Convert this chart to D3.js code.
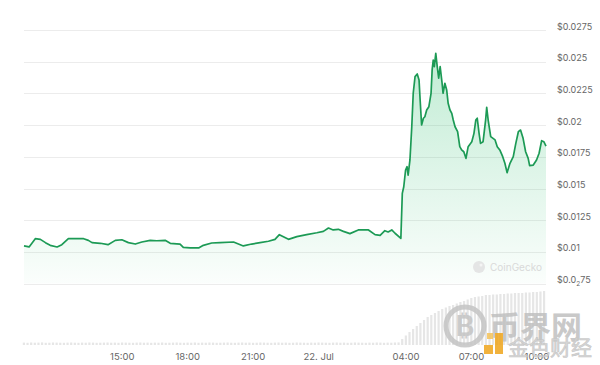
<!DOCTYPE html>
<html>
<head>
<meta charset="utf-8">
<script src="https://cdn.jsdelivr.net/npm/d3@7"></script>
<style>
  body { margin: 0; background: #fff; }
  svg { display: block; font-family: Inter, "Noto Sans", sans-serif; }
</style>
</head>
<body>
<div class="container"></div>
<script>
// Price chart, 24h, with volume bars underneath

const priceTimes = [
  "21 10:30","21 10:44","21 11:01","21 11:15","21 11:29","21 11:42","21 12:01","21 12:14",
  "21 12:32","21 12:56","21 13:14","21 13:27","21 13:37","21 14:00","21 14:21","21 14:41",
  "21 14:59","21 15:17","21 15:36","21 15:54","21 16:17","21 16:35","21 16:58","21 17:12",
  "21 17:39","21 17:48","21 18:07","21 18:30","21 18:43","21 19:06","21 19:29","21 20:06",
  "21 20:33","21 20:56","21 21:19","21 21:42","21 22:00","21 22:12","21 22:37","21 23:00",
  "21 23:27","21 23:55","22 00:13","22 00:27","22 00:40","22 00:54","22 01:08","22 01:26",
  "22 01:49","22 02:17","22 02:35","22 02:49","22 03:02","22 03:11","22 03:21","22 03:30",
  "22 03:46","22 03:50","22 03:54","22 03:59","22 04:03","22 04:06","22 04:11","22 04:16",
  "22 04:20","22 04:25","22 04:31","22 04:36","22 04:39","22 04:43","22 04:48","22 04:52",
  "22 04:57","22 05:03","22 05:09","22 05:12","22 05:15","22 05:18","22 05:22","22 05:26",
  "22 05:30","22 05:34","22 05:39","22 05:42","22 05:47","22 05:52","22 05:56","22 06:01",
  "22 06:06","22 06:10","22 06:15","22 06:22","22 06:28","22 06:33","22 06:39","22 06:45",
  "22 06:51","22 07:01","22 07:07","22 07:12","22 07:16","22 07:21","22 07:25","22 07:32",
  "22 07:39","22 07:42","22 07:46","22 07:53","22 08:05","22 08:11","22 08:18","22 08:26",
  "22 08:32","22 08:38","22 08:46","22 08:55","22 09:02","22 09:09","22 09:15","22 09:22",
  "22 09:29","22 09:36","22 09:40","22 09:50","22 09:59","22 10:06","22 10:13","22 10:19",
  "22 10:25"
];

const prices = [
  0.01047, 0.01039, 0.01104, 0.01099, 0.01073, 0.01052, 0.01039, 0.01057,
  0.01104, 0.01104, 0.01104, 0.01091, 0.01073, 0.01068, 0.01057, 0.01091,
  0.01096, 0.01073, 0.01062, 0.01078, 0.01091, 0.01088, 0.01091, 0.01068,
  0.01062, 0.01036, 0.01031, 0.01031, 0.01052, 0.01070, 0.01073, 0.01078,
  0.01047, 0.01062, 0.01073, 0.01084, 0.01099, 0.01136, 0.01099, 0.01120,
  0.01136, 0.01151, 0.01162, 0.01188, 0.01173, 0.01178, 0.01162, 0.01144,
  0.01173, 0.01173, 0.01136, 0.01131, 0.01167, 0.01157, 0.01173, 0.01147,
  0.01107, 0.01462, 0.01514, 0.01646, 0.01672, 0.01606, 0.01725, 0.01987,
  0.02251, 0.02382, 0.02403, 0.02356, 0.02198, 0.02001, 0.02054, 0.02066,
  0.02119, 0.02145, 0.02251, 0.02435, 0.02513, 0.02461, 0.02566, 0.02461,
  0.02371, 0.02461, 0.02340, 0.02251, 0.02330, 0.02277, 0.02172, 0.02119,
  0.02093, 0.02040, 0.01987, 0.01948, 0.01830, 0.01804, 0.01790, 0.01738,
  0.01830, 0.01869, 0.01935, 0.02040, 0.02054, 0.01935, 0.01856, 0.01869,
  0.02040, 0.02140, 0.02040, 0.01909, 0.01883, 0.01830, 0.01804, 0.01751,
  0.01699, 0.01625, 0.01699, 0.01751, 0.01856, 0.01948, 0.01961, 0.01896,
  0.01790, 0.01738, 0.01680, 0.01685, 0.01725, 0.01778, 0.01877, 0.01869,
  0.01835
];

// volume, one bar every 10 minutes from 21 Jul 10:30 (thousand $)
const volumes = [
  24, 22, 25, 23, 24, 26, 22, 23, 25, 24, 23, 22,
  24, 25, 23, 22, 24, 23, 25, 24, 22, 23, 24, 25,
  23, 24, 22, 25, 24, 23, 22, 24, 25, 23, 24, 22,
  24, 23, 25, 22, 23, 24, 25, 23, 22, 24, 23, 25,
  22, 24, 23, 25, 24, 22, 23, 24, 25, 23, 22, 24,
  25, 23, 24, 22, 23, 25, 24, 23, 22, 24, 25, 23,
  24, 22, 23, 25, 24, 23, 22, 24, 23, 25, 24, 23,
  22, 24, 25, 23, 24, 22, 23, 25, 24, 23, 22, 24,
  23, 25, 24, 22, 24, 23, 25, 26, 60, 95, 130, 160,
  190, 220, 250, 280, 300, 320, 340, 360, 375, 390, 400, 415,
  430, 440, 455, 470, 480, 485, 490, 500, 500, 505, 505, 510,
  510, 515, 515, 520, 520, 520, 525, 525, 530, 530, 535, 540
];

const yTicks = [0.0075, 0.01, 0.0125, 0.015, 0.0175, 0.02, 0.0225, 0.025, 0.0275];
const yTickLabels = ["$0.0₂75", "$0.01", "$0.0125", "$0.015", "$0.0175", "$0.02", "$0.0225", "$0.025", "$0.0275"];

const xTickTimes = ["21 15:00", "21 18:00", "21 21:00", "22 00:00", "22 04:00", "22 07:00", "22 10:00"];
const xTickLabels = ["15:00", "18:00", "21:00", "22. Jul", "04:00", "07:00", "10:00"];

const width = 600, height = 365;
const parse = s => d3.timeParse("%Y-%m-%d %H:%M")("2024-07-" + s);

const data = priceTimes.map((t, i) => ({ t: parse(t), v: prices[i] }));
const start = parse("21 10:30"), end = parse("22 10:25");
const volData = volumes.map((v, i) => ({ t: d3.timeMinute.offset(start, i * 10), v }));

const x = d3.scaleTime().domain([start, end]).range([24, 546]);
const y = d3.scaleLinear().domain([0.0075, 0.0275]).range([283.6, 30]);
const yVol = d3.scaleLinear().domain([0, 620]).range([345, 283]);

const svg = d3.select(".container")
  .append("svg")
    .attr("width", width)
    .attr("height", height);

const defs = svg.append("defs");
const grad = defs.append("linearGradient")
    .attr("id", "areaFill")
    .attr("gradientUnits", "userSpaceOnUse")
    .attr("x1", 0).attr("x2", 0)
    .attr("y1", y(0.0257)).attr("y2", y(0.0075));
grad.append("stop").attr("offset", 0).attr("stop-color", "#2fbf6f").attr("stop-opacity", 0.3);
grad.append("stop").attr("offset", 1).attr("stop-color", "#2fbf6f").attr("stop-opacity", 0.02);

// volume bars
svg.append("g")
  .selectAll("rect")
  .data(volData)
  .join("rect")
    .attr("x", d => x(d.t) - 1.2)
    .attr("y", d => yVol(d.v))
    .attr("width", 2.2)
    .attr("height", d => yVol(0) - yVol(d.v))
    .attr("fill", "#e6e6e6");

// grid
svg.append("g")
  .selectAll("line")
  .data(yTicks)
  .join("line")
    .attr("x1", 24).attr("x2", 546)
    .attr("y1", d => Math.round(y(d)) + 0.5)
    .attr("y2", d => Math.round(y(d)) + 0.5)
    .attr("stroke", "#ececec")
    .attr("stroke-width", 1);

// area + line
svg.append("path")
  .datum(data)
  .attr("fill", "url(#areaFill)")
  .attr("d", d3.area().x(d => x(d.t)).y0(y(0.0075)).y1(d => y(d.v)));

svg.append("path")
  .datum(data)
  .attr("fill", "none")
  .attr("stroke", "#1c9a55")
  .attr("stroke-width", 1.7)
  .attr("stroke-linejoin", "round")
  .attr("d", d3.line().x(d => x(d.t)).y(d => y(d.v)));

// y labels
const yLab = svg.append("g")
    .attr("font-size", 9)
    .attr("fill", "#666")
  .selectAll("text")
  .data(yTicks)
  .join("text")
    .attr("x", 557)
    .attr("y", d => y(d) - 0.5);
yLab.each(function(d, i) {
  const lab = yTickLabels[i];
  const el = d3.select(this);
  if (lab.includes("₂")) {
    const [a, b] = lab.split("₂");
    el.append("tspan").text(a);
    el.append("tspan").attr("font-size", 6.5).attr("dy", 2.5).text("2");
    el.append("tspan").attr("dy", -2.5).text(b);
  } else {
    el.text(lab);
  }
});

// x labels
svg.append("g")
    .attr("font-size", 9.5)
    .attr("fill", "#666")
    .attr("text-anchor", "middle")
  .selectAll("text")
  .data(xTickTimes)
  .join("text")
    .attr("x", d => x(parse(d)))
    .attr("y", 360)
    .text((d, i) => xTickLabels[i]);

// CoinGecko watermark
const cg = svg.append("g").attr("opacity", 0.9);
cg.append("circle").attr("cx", 479).attr("cy", 267).attr("r", 6).attr("fill", "#e3e3e3");
cg.append("circle").attr("cx", 481).attr("cy", 265).attr("r", 1.5).attr("fill", "#f4f4f4");
cg.append("text")
  .attr("x", 490).attr("y", 271)
  .attr("font-size", 10)
  .attr("fill", "#d6d6d6")
  .text("CoinGecko");

// site watermark (bottom right), drawn over the chart like in the screenshot
const wm = svg.append("g").attr("opacity", 0.85);
wm.append("circle").attr("cx", 465).attr("cy", 326).attr("r", 19)
  .attr("fill", "none").attr("stroke", "#c4c4c4").attr("stroke-width", 5);
wm.append("text").attr("x", 465).attr("y", 336).attr("text-anchor", "middle")
  .attr("font-size", 28).attr("font-weight", "bold").attr("fill", "#c4c4c4").text("₿");
wm.append("text").attr("x", 489).attr("y", 338)
  .attr("font-family", "'Noto Sans CJK SC'")
  .attr("font-size", 31).attr("font-weight", "bold").attr("fill", "#c0c0c0").text("币界网");
wm.append("rect").attr("x", 484).attr("y", 345).attr("width", 9).attr("height", 9).attr("fill", "#efa51c");
wm.append("rect").attr("x", 495).attr("y", 333).attr("width", 8).attr("height", 21).attr("fill", "#efa51c");
wm.append("rect").attr("x", 487).attr("y", 333).attr("width", 6).attr("height", 6).attr("fill", "#f5c35a");
wm.append("text").attr("x", 508).attr("y", 355)
  .attr("font-family", "'Noto Sans CJK SC'")
  .attr("font-size", 21).attr("fill", "#d0d0d0")
  .attr("stroke", "#bdbdbd").attr("stroke-width", 0.6)
  .text("金色财经");
</script>
</body>
</html>
